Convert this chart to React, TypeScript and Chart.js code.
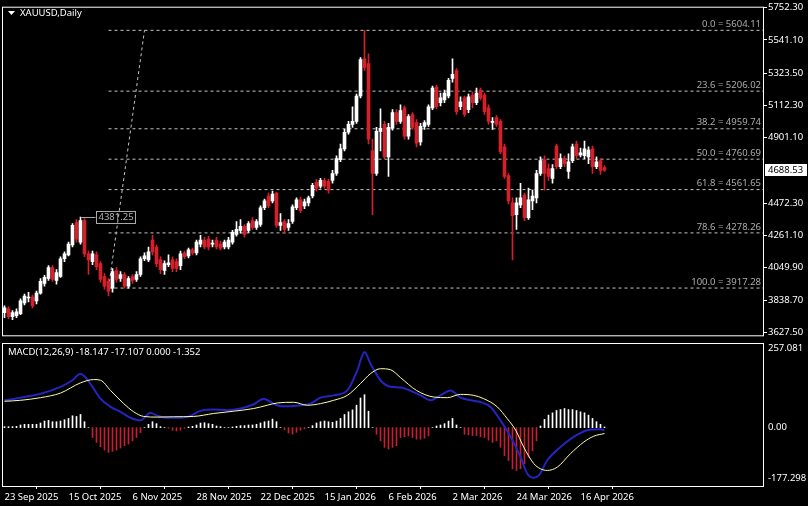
import React, { useEffect, useRef } from 'react';
import { Chart, registerables } from 'chart.js';
Chart.register(...registerables);

// ---------- DATA ----------
const opens = [
  3756, 3781, 3730, 3736, 3749, 3820, 3852, 3858, 3833, 3884,
  3948, 3980, 4051, 3968, 3993, 4109, 4134, 4199, 4346, 4218,
  4359, 4141, 4090, 4134, 4077, 3993, 3961, 3916, 4032, 3980,
  4006, 3929, 3993, 3974, 4006, 4109, 4102, 4231, 4186, 4102,
  4032, 4070, 4102, 4090, 4064, 4147, 4128, 4167, 4147, 4205,
  4231, 4237, 4205, 4231, 4205, 4186, 4186, 4218, 4269, 4295,
  4321, 4295, 4359, 4314, 4333, 4443, 4520, 4488, 4539, 4327,
  4353, 4314, 4353, 4443, 4494, 4455, 4475, 4520, 4609, 4584,
  4622, 4616, 4622, 4667, 4757, 4828, 4937, 4988, 5008, 5174,
  5418, 5386, 4815, 4667, 4943, 4988, 4776, 4963, 5065, 5008,
  5097, 4911, 5053, 5001, 4873, 4975, 4988, 5097, 5232, 5130,
  5149, 5174, 5290, 5341, 5104, 5162, 5085, 5181, 5130, 5213,
  5181, 5097, 5001, 5033, 5008, 4841, 4654, 4475, 4398, 4462,
  4526, 4378, 4488, 4507, 4667, 4757, 4699, 4635, 4847, 4712,
  4764, 4680, 4751, 4860, 4789, 4783, 4776, 4828, 4712, 4751,
  4706,
];
const highs = [
  3801, 3794, 3769, 3781, 3846, 3878, 3890, 3871, 3897, 3980,
  4000, 4064, 4064, 4038, 4122, 4154, 4218, 4340, 4366, 4381.25,
  4372, 4160, 4160, 4154, 4090, 4012, 3980, 4045, 4051, 4025,
  4019, 3993, 4006, 4025, 4122, 4147, 4186, 4263, 4199, 4122,
  4096, 4134, 4122, 4109, 4160, 4160, 4179, 4179, 4231, 4263,
  4250, 4256, 4231, 4250, 4224, 4231, 4250, 4295, 4353, 4366,
  4333, 4353, 4378, 4366, 4455, 4500, 4539, 4552, 4545, 4404,
  4366, 4366, 4462, 4507, 4513, 4500, 4520, 4603, 4629, 4635,
  4635, 4629, 4687, 4783, 4860, 4956, 5008, 5104, 5187, 5425,
  5604.11, 5451, 4892, 4969, 5091, 5008, 4995, 5085, 5085, 5117,
  5110, 5053, 5065, 5020, 4995, 5014, 5117, 5239, 5245, 5194,
  5213, 5290, 5418, 5354, 5168, 5174, 5187, 5200, 5226, 5226,
  5194, 5117, 5033, 5046, 5020, 4860, 4667, 4507, 4507, 4603,
  4539, 4571, 4558, 4687, 4776, 4783, 4731, 4725, 4860, 4796,
  4783, 4796, 4860, 4879, 4834, 4879, 4841, 4847, 4776, 4764,
  4719,
];
const lows = [
  3724, 3717, 3711, 3724, 3743, 3807, 3826, 3788, 3813, 3878,
  3929, 3968, 3961, 3942, 3987, 4090, 4128, 4186, 4218, 4205,
  4122, 4006, 4070, 4038, 3955, 3910, 3865, 3890, 3955, 3961,
  3916, 3916, 3948, 3961, 3993, 4096, 4090, 4134, 4057, 4012,
  4006, 4057, 4025, 4025, 4038, 4109, 4115, 4134, 4134, 4186,
  4173, 4167, 4186, 4173, 4167, 4173, 4173, 4205, 4256, 4276,
  4250, 4282, 4301, 4301, 4321, 4430, 4443, 4475, 4314, 4295,
  4276, 4295, 4340, 4430, 4410, 4436, 4455, 4507, 4552, 4571,
  4571, 4539, 4603, 4654, 4744, 4815, 4924, 4969, 4995, 5162,
  5341, 4860, 4398, 4654, 4815, 4764, 4648, 4950, 4988, 4995,
  4892, 4892, 4956, 4841, 4853, 4956, 4975, 5085, 5091, 5110,
  5130, 5162, 5264, 5053, 5085, 5040, 5065, 5097, 5117, 5149,
  5053, 4988, 4956, 4975, 4796, 4635, 4468, 4102, 4301, 4443,
  4359, 4366, 4430, 4475, 4654, 4558, 4622, 4603, 4699, 4699,
  4712, 4635, 4738, 4764, 4776, 4764, 4731, 4667, 4699, 4661,
  4680,
];
const closes = [
  3788, 3730, 3756, 3762, 3833, 3865, 3858, 3801, 3884, 3961,
  3987, 4051, 3974, 4019, 4109, 4141, 4205, 4327, 4237, 4359,
  4141, 4102, 4141, 4057, 3974, 3929, 3897, 4025, 3974, 4006,
  3929, 3980, 3968, 4006, 4109, 4128, 4154, 4154, 4077, 4038,
  4077, 4083, 4045, 4045, 4141, 4122, 4167, 4147, 4218, 4231,
  4186, 4186, 4211, 4186, 4179, 4218, 4231, 4282, 4301, 4321,
  4269, 4340, 4314, 4353, 4443, 4488, 4455, 4532, 4327, 4346,
  4301, 4340, 4449, 4494, 4423, 4481, 4507, 4590, 4571, 4622,
  4584, 4558, 4667, 4764, 4828, 4937, 4988, 5008, 5174, 5412,
  5361, 4892, 4667, 4943, 4963, 4776, 4969, 5065, 5008, 5078,
  4911, 5040, 4969, 4866, 4975, 5001, 5104, 5226, 5104, 5162,
  5194, 5277, 5316, 5072, 5136, 5053, 5168, 5130, 5194, 5162,
  5072, 5008, 5008, 4988, 4809, 4648, 4488, 4391, 4475, 4507,
  4378, 4494, 4520, 4667, 4751, 4667, 4648, 4699, 4712, 4764,
  4731, 4744, 4841, 4783, 4802, 4828, 4821, 4712, 4744, 4687,
  4688.53,
];

const macdHist = [
  3, 3, 3, 4, 8, 10, 10, 10, 10, 14,
  20, 22, 18, 18, 20, 24, 28, 36, 34, 40,
  18, 0, -30, -45, -58, -68, -75, -72, -68, -62,
  -55, -50, -40, -30, -15, 0, 10, 18, 12, 3,
  0, -2, -8, -10, -8, -2, 2, 4, 8, 14,
  15, 12, 10, 5, 3, 0, 0, 2, 4, 6,
  6, 8, 8, 10, 14, 18, 20, 26, 18, 0,
  -6, -16, -20, -14, -8, -4, 0, 6, 14, 18,
  20, 18, 16, 20, 28, 40, 48, 54, 68, 90,
  100, 50, 0, -20, -40, -60, -65, -60, -55, -30,
  -28, -25, -30, -35, -35, -32, -25, 0, 5, 8,
  12, 20, 28, 8, 0, -20, -22, -24, -24, -28,
  -30, -38, -45, -40, -60, -85, -100, -125, -130, -125,
  -110, -90, -70, -40, 5, 25, 38, 45, 52, 55,
  58, 55, 55, 52, 48, 45, 38, 28, 18, 10,
  2,
];

const blueX = [0, 4, 9, 14, 17, 19, 20, 22, 24, 26.5, 29, 31.5, 34, 36.5, 38, 40.7, 43, 45.7, 49, 52.3, 55.7, 59, 62.3, 64.8, 66.5, 69, 71.5, 74, 76.5, 79, 82.3, 85.7, 88.2, 90, 91.5, 94, 96.5, 99, 104, 106.5, 109, 111.5, 114, 116.5, 119, 121.5, 124, 126.5, 129, 130.7, 132.3, 133.6, 135.7, 139, 142.3, 145.7, 149, 150];
const blueY = [83, 91, 103, 124, 144, 164, 156, 124, 88, 63, 48, 30, 22, 45, 37, 30, 30, 32, 51, 55, 53, 58, 71, 88, 78, 65, 65, 68, 73, 91, 98, 113, 174, 230, 194, 144, 124, 122, 98, 83, 98, 113, 91, 83, 78, 63, 22, -28, -89, -140, -152, -145, -99, -59, -28, -8, -5, -8];

const yellowX = [0, 4, 9, 14, 19, 22.3, 24, 26.5, 29.8, 32.3, 34.8, 38.2, 42.3, 47.3, 52.3, 57.3, 62.3, 65.7, 68.2, 72.3, 75.7, 79, 82.3, 85.7, 89, 91.5, 94, 96.5, 99, 103, 107.3, 110.7, 114, 117.3, 119.8, 123.2, 125.7, 127.8, 129.8, 132.3, 134, 135.7, 138.2, 141.5, 144.8, 147.3, 150];
const yellowY = [80, 83, 91, 105, 136, 146, 144, 113, 73, 48, 34, 32, 33, 34, 43, 50, 58, 68, 75, 77, 68, 73, 83, 98, 134, 164, 179, 176, 152, 113, 93, 91, 101, 98, 88, 63, 27, -8, -59, -109, -125, -130, -120, -79, -44, -26, -18];

const priceTicks = [5752.3, 5541.1, 5323.5, 5112.3, 4901.1, 4472.3, 4261.1, 4049.9, 3838.7, 3627.5];
const macdTicks = [257.081, 0, -177.298];
const dateTickIdx = [0, 16, 32, 48, 64, 80, 96, 112, 128, 144];
const dateLabels = ['23 Sep 2025', '15 Oct 2025', '6 Nov 2025', '28 Nov 2025', '22 Dec 2025', '15 Jan 2026', '6 Feb 2026', '2 Mar 2026', '24 Mar 2026', '16 Apr 2026'];

const fibRatios = ['0.0', '23.6', '38.2', '50.0', '61.8', '78.6', '100.0'];
const fibPrices = [5604.11, 5206.02, 4959.74, 4760.69, 4561.65, 4278.26, 3917.28];
const fibStartIdx = 26;
const fibEndIdx = 35;
const markIdx = 19;
const markPrice = 4381.25;
const lastPrice = 4688.53;

const title = 'XAUUSD,Daily';
const macdTitle = 'MACD(12,26,9) -18.147 -17.107 0.000 -1.352';

// ---------- STYLE ----------
const FONT = '"Noto Sans", "DejaVu Sans", sans-serif';
const FSIZE = 9.5;
const UP = '#ffffff';
const DOWN = '#d3202a';
const X_MIN = -0.625;
const X_MAX = 189.625;

const framePlugin = {
  id: 'frame',
  afterDraw(chart: any) {
    const { ctx, chartArea: a } = chart;
    ctx.save();
    ctx.strokeStyle = '#ffffff';
    ctx.lineWidth = 1;
    ctx.strokeRect(a.left + 0.5, a.top + 0.5, a.right - a.left, a.bottom - a.top);
    ctx.restore();
  },
};

const mainOverlay = {
  id: 'mainOverlay',
  afterDatasetsDraw(chart: any) {
    const { ctx, chartArea: a } = chart;
    const xs = chart.scales.x;
    const ys = chart.scales.y;
    ctx.save();
    ctx.font = `${FSIZE}px ${FONT}`;
    // fib labels
    ctx.fillStyle = '#ababab';
    ctx.textAlign = 'right';
    ctx.textBaseline = 'middle';
    fibPrices.forEach((p, k) => {
      const py = ys.getPixelForValue(p);
      ctx.fillText(`${fibRatios[k]} = ${p.toFixed(2)}`, a.right - 2, py - 6);
    });
    // marked high
    const mx = xs.getPixelForValue(markIdx);
    const my = Math.round(ys.getPixelForValue(markPrice)) + 0.5;
    ctx.strokeStyle = '#a8a8a8';
    ctx.lineWidth = 1;
    ctx.beginPath();
    ctx.moveTo(mx + 1, my);
    ctx.lineTo(mx + 15, my);
    ctx.stroke();
    ctx.textAlign = 'left';
    const tw = ctx.measureText(markPrice.toFixed(2)).width;
    ctx.strokeRect(Math.round(mx + 15) + 0.5, my - 6, Math.round(tw + 4), 12);
    ctx.fillStyle = '#b0b0b0';
    ctx.fillText(markPrice.toFixed(2), mx + 18, my);
    // last price box
    const ly = Math.round(ys.getPixelForValue(lastPrice));
    ctx.fillStyle = '#ffffff';
    ctx.fillRect(a.right + 2, ly - 6, 42, 12);
    ctx.fillStyle = '#000000';
    ctx.fillText(lastPrice.toFixed(2), a.right + 5, ly);
    // title
    ctx.fillStyle = '#ffffff';
    ctx.beginPath();
    ctx.moveTo(8, 11);
    ctx.lineTo(15, 11);
    ctx.lineTo(11.5, 15);
    ctx.closePath();
    ctx.fill();
    ctx.fillText(title, 20, 13);
    ctx.restore();
  },
};

const macdOverlay = {
  id: 'macdOverlay',
  afterDatasetsDraw(chart: any) {
    const { ctx, chartArea: a } = chart;
    const ys = chart.scales.y;
    ctx.save();
    ctx.font = `${FSIZE}px ${FONT}`;
    ctx.fillStyle = '#ffffff';
    ctx.textAlign = 'left';
    ctx.textBaseline = 'middle';
    ctx.fillText(macdTitle, 8, a.top + 9);
    macdTicks.forEach((v) => {
      let py = ys.getPixelForValue(v);
      py = Math.min(Math.max(py, a.top + 5), a.bottom - 8);
      const lbl = v === 0 ? '0.00' : v.toFixed(3);
      ctx.fillText(lbl, a.right + 5, py);
    });
    ctx.restore();
  },
};

export default function App() {
  const mainRef = useRef<HTMLCanvasElement>(null);
  const macdRef = useRef<HTMLCanvasElement>(null);

  useEffect(() => {
    const idx = opens.map((_, i) => i);
    const colors = idx.map((i) => (closes[i] >= opens[i] ? UP : DOWN));

    const fibSets = fibPrices.map((p) => ({
      type: 'line' as const,
      data: [{ x: fibStartIdx, y: p }, { x: X_MAX, y: p }],
      borderColor: '#c4c4c4',
      borderWidth: 1,
      borderDash: [3, 3],
      pointRadius: 0,
      order: 5,
    }));

    const main = new Chart(mainRef.current!, {
      type: 'bar',
      data: {
        datasets: [
          {
            type: 'bar',
            data: idx.map((i) => ({ x: i, y: [opens[i], closes[i]] })) as any,
            backgroundColor: colors,
            barThickness: 3,
            minBarLength: 1,
            grouped: false,
            borderWidth: 0,
            order: 1,
          } as any,
          {
            type: 'bar',
            data: idx.map((i) => ({ x: i, y: [lows[i], highs[i]] })) as any,
            backgroundColor: colors,
            barThickness: 1,
            grouped: false,
            borderWidth: 0,
            order: 2,
          } as any,
          ...fibSets,
          {
            type: 'line',
            data: [{ x: fibStartIdx, y: fibPrices[6] }, { x: fibEndIdx, y: fibPrices[0] }],
            borderColor: '#c4c4c4',
            borderWidth: 1,
            borderDash: [3, 3],
            pointRadius: 0,
            order: 5,
          } as any,
        ],
      },
      options: {
        responsive: false,
        animation: false,
        devicePixelRatio: 1,
        layout: { padding: { left: 2, top: 5, right: 0, bottom: 2 }, autoPadding: false } as any,
        plugins: { legend: { display: false }, tooltip: { enabled: false } },
        scales: {
          x: { type: 'linear', min: X_MIN, max: X_MAX, display: false, offset: false },
          y: {
            type: 'linear',
            position: 'right',
            min: 3608.0,
            max: 5758.7,
            afterBuildTicks: (s: any) => {
              s.ticks = priceTicks.map((v) => ({ value: v }));
            },
            afterFit: (s: any) => {
              s.width = 45;
            },
            ticks: {
              color: '#ffffff',
              font: { family: FONT, size: FSIZE },
              padding: 1,
              autoSkip: false,
              callback: (v: any) => Number(v).toFixed(2),
            },
            grid: { drawOnChartArea: false, drawTicks: true, tickLength: 4, color: '#ffffff' },
            border: { display: false },
          } as any,
        },
      },
      plugins: [framePlugin, mainOverlay],
    });

    const macd = new Chart(macdRef.current!, {
      type: 'bar',
      data: {
        datasets: [
          {
            type: 'line',
            data: yellowX.map((x, k) => ({ x, y: yellowY[k] })),
            borderColor: '#ffffa8',
            borderWidth: 1,
            pointRadius: 0,
            cubicInterpolationMode: 'monotone',
            order: 0,
          } as any,
          {
            type: 'line',
            data: blueX.map((x, k) => ({ x, y: blueY[k] })),
            borderColor: '#2424c0',
            borderWidth: 2,
            pointRadius: 0,
            cubicInterpolationMode: 'monotone',
            order: 1,
          } as any,
          {
            type: 'bar',
            data: idx.map((i) => ({ x: i, y: macdHist[i] })) as any,
            backgroundColor: macdHist.map((v) => (v >= 0 ? '#ffffff' : '#c82030')),
            barThickness: 1,
            grouped: false,
            borderWidth: 0,
            order: 2,
          } as any,
        ],
      },
      options: {
        responsive: false,
        animation: false,
        devicePixelRatio: 1,
        layout: { padding: { left: 2, top: 2, right: 0, bottom: 0 }, autoPadding: false } as any,
        plugins: { legend: { display: false }, tooltip: { enabled: false } },
        scales: {
          x: {
            type: 'linear',
            min: X_MIN,
            max: X_MAX,
            offset: false,
            afterBuildTicks: (s: any) => {
              s.ticks = dateTickIdx.map((v) => ({ value: v }));
            },
            afterFit: (s: any) => {
              s.height = 20;
            },
            ticks: {
              align: 'start',
              color: '#ffffff',
              font: { family: FONT, size: FSIZE },
              padding: 3,
              maxRotation: 0,
              autoSkip: false,
              callback: (v: any) => dateLabels[dateTickIdx.indexOf(Number(v))],
            },
            grid: { drawOnChartArea: false, drawTicks: true, tickLength: 3, color: '#ffffff' },
            border: { display: false },
          } as any,
          y: {
            type: 'linear',
            position: 'right',
            min: -177.298,
            max: 257.081,
            ticks: { display: false },
            grid: { display: false },
            border: { display: false },
            afterFit: (s: any) => {
              s.width = 45;
            },
          } as any,
        },
      },
      plugins: [framePlugin, macdOverlay],
    });

    return () => {
      main.destroy();
      macd.destroy();
    };
  }, []);

  return (
    <div style={{ position: 'fixed', left: 0, top: 0, width: 808, height: 506, background: '#000', overflow: 'hidden' }}>
      <canvas ref={mainRef} width={808} height={342} style={{ position: 'absolute', left: 0, top: 0, display: 'block' }} />
      <canvas ref={macdRef} width={808} height={165} style={{ position: 'absolute', left: 0, top: 341, display: 'block' }} />
    </div>
  );
}
